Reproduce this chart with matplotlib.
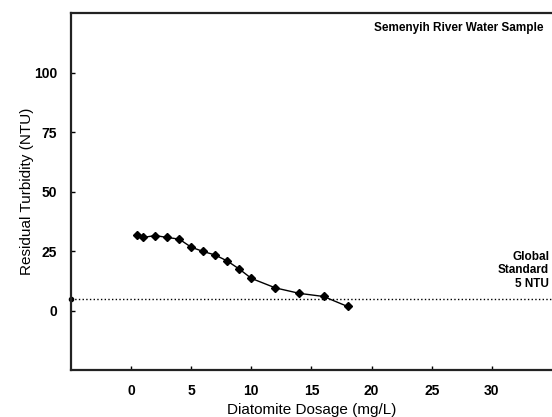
import matplotlib
matplotlib.use("Agg")
import matplotlib.pyplot as plt

# diatomite dosage (mg/L) and residual turbidity (NTU)
dosage = [0.5, 1, 2, 3, 4, 5, 6, 7, 8, 9, 10, 12, 14, 16, 18]
turbidity = [31.8, 30.7, 31.5, 30.7, 30.0, 26.6, 24.8, 23.3, 20.8, 17.4, 13.5, 9.5, 7.2, 5.9, 1.7]

# global standard reference line
std_x = [-5, 35]
std_y = [5, 5]

xticks = [0, 5, 10, 15, 20, 25, 30]
yticks = [0, 25, 50, 75, 100]

plt.rcParams['font.family'] = ['Liberation Sans', 'DejaVu Sans']

fig = plt.figure(figsize=(5.52, 4.17), dpi=100)
ax = fig.add_axes([0.1286, 0.1127, 0.8714, 0.856])

ax.plot(std_x, std_y, color='black', linestyle=':', linewidth=1,
        marker='o', markersize=3, markevery=[0], clip_on=False)
ax.plot(dosage, turbidity, color='black', linewidth=1,
        marker='D', markersize=4.2)

ax.set_xlim(-5, 35)
ax.set_ylim(-25, 125)
ax.set_xticks(xticks)
ax.set_yticks(yticks)

for s in ['left', 'bottom', 'top']:
    ax.spines[s].set_linewidth(1.6)
    ax.spines[s].set_color('#222222')
ax.spines['right'].set_visible(False)

ax.tick_params(direction='in', length=3, width=1, pad=10, labelsize=10)
for lab in ax.get_xticklabels() + ax.get_yticklabels():
    lab.set_fontweight('bold')

ax.set_xlabel('Diatomite Dosage (mg/L)', fontsize=11, labelpad=4)
ax.set_ylabel('Residual Turbidity (NTU)', fontsize=11, labelpad=0)

ax.text(0.983, 0.958, 'Semenyih River Water Sample', transform=ax.transAxes,
        ha='right', va='center', fontsize=8.5, fontweight='bold')
ax.text(0.994, 0.279, 'Global\nStandard\n5 NTU', transform=ax.transAxes,
        ha='right', va='center', multialignment='right',
        fontsize=8.5, fontweight='bold')

fig.savefig('out.png', dpi=100)
